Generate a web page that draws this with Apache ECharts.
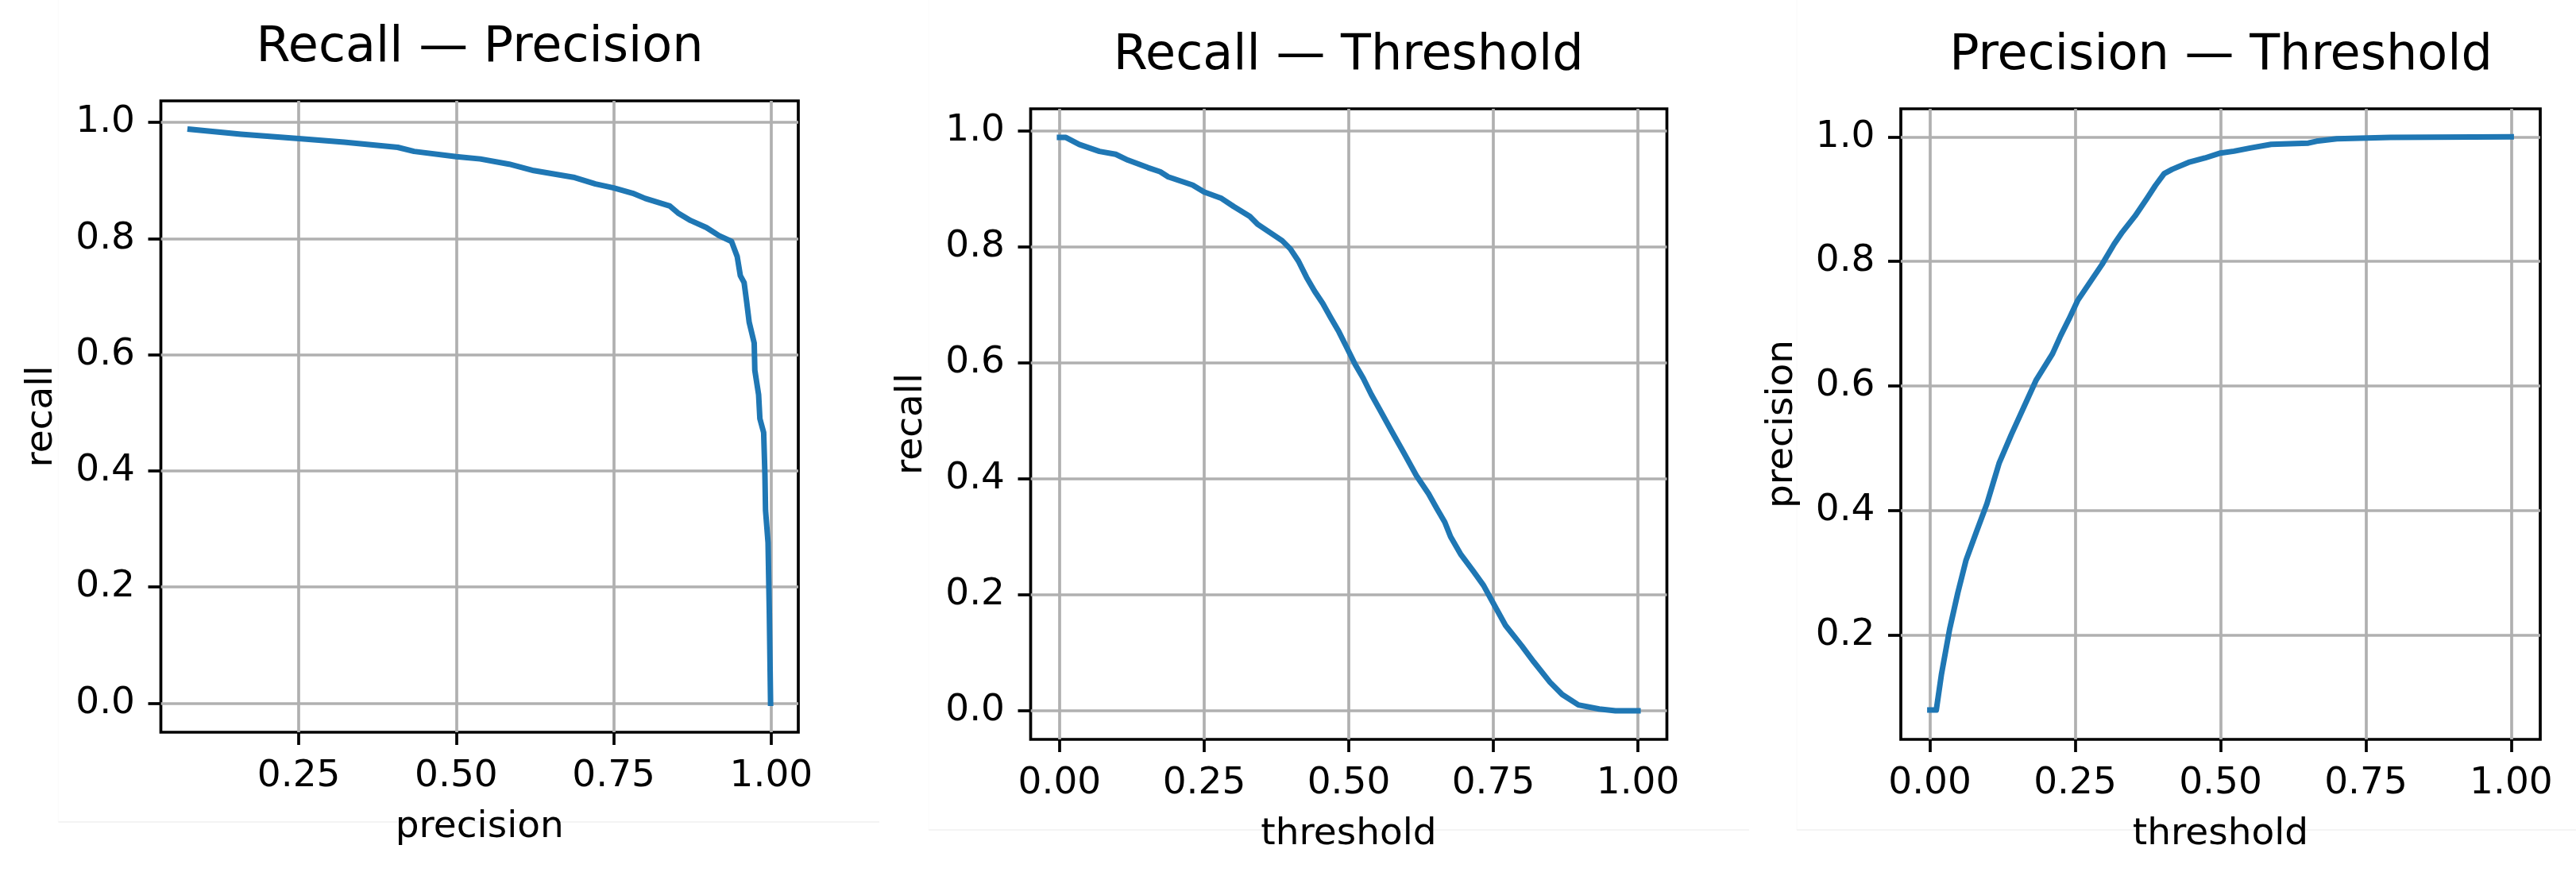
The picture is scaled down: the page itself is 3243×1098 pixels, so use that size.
<!DOCTYPE html>
<html>
<head>
<meta charset="utf-8">
<script src="https://cdn.jsdelivr.net/npm/echarts@6.0.0/dist/echarts.min.js"></script>
<style>
  html, body { margin: 0; padding: 0; background: #fff; }
  #chart { width: 3243px; height: 1098px; }
</style>
</head>
<body>
<div id="chart"></div>
<script>
// recall vs precision
const prPrecision = [0.0775, 0.158, 0.25, 0.322, 0.407, 0.433, 0.5, 0.538, 0.584, 0.623, 0.688, 0.721, 0.75, 0.78, 0.80, 0.839, 0.852, 0.872, 0.897, 0.917, 0.937, 0.946, 0.951, 0.957, 0.961, 0.965, 0.973, 0.974, 0.980, 0.982, 0.988, 0.990, 0.991, 0.995, 0.997, 0.999];
const prRecall = [0.988, 0.9795, 0.972, 0.966, 0.957, 0.950, 0.941, 0.937, 0.928, 0.917, 0.905, 0.894, 0.887, 0.878, 0.869, 0.856, 0.844, 0.831, 0.819, 0.805, 0.795, 0.769, 0.736, 0.724, 0.691, 0.656, 0.620, 0.573, 0.531, 0.490, 0.466, 0.395, 0.332, 0.276, 0.157, 0.0];

// recall vs threshold
const rtThreshold = [0, 0.011, 0.034, 0.069, 0.097, 0.118, 0.153, 0.174, 0.188, 0.230, 0.25, 0.280, 0.301, 0.329, 0.343, 0.364, 0.385, 0.399, 0.413, 0.427, 0.441, 0.455, 0.469, 0.483, 0.497, 0.511, 0.525, 0.539, 0.553, 0.574, 0.596, 0.617, 0.638, 0.652, 0.666, 0.676, 0.694, 0.715, 0.733, 0.75, 0.771, 0.799, 0.820, 0.848, 0.869, 0.897, 0.933, 0.961, 1.0];
const rtRecall = [0.988, 0.988, 0.976, 0.964, 0.959, 0.949, 0.936, 0.929, 0.920, 0.906, 0.894, 0.883, 0.869, 0.852, 0.838, 0.824, 0.810, 0.796, 0.775, 0.747, 0.723, 0.702, 0.677, 0.653, 0.625, 0.597, 0.573, 0.545, 0.520, 0.482, 0.443, 0.405, 0.374, 0.349, 0.325, 0.300, 0.269, 0.241, 0.216, 0.185, 0.147, 0.112, 0.084, 0.049, 0.028, 0.010, 0.003, 0.0, 0.0];

// precision vs threshold
const ptThreshold = [0, 0.011, 0.020, 0.034, 0.048, 0.062, 0.080, 0.098, 0.119, 0.140, 0.162, 0.183, 0.211, 0.225, 0.239, 0.254, 0.275, 0.296, 0.317, 0.331, 0.353, 0.374, 0.388, 0.403, 0.417, 0.445, 0.473, 0.5, 0.523, 0.551, 0.587, 0.651, 0.665, 0.700, 0.792, 1.0];
const ptPrecision = [0.080, 0.080, 0.138, 0.210, 0.268, 0.320, 0.366, 0.411, 0.476, 0.522, 0.567, 0.610, 0.652, 0.681, 0.707, 0.737, 0.766, 0.795, 0.828, 0.847, 0.873, 0.902, 0.922, 0.941, 0.948, 0.959, 0.966, 0.974, 0.977, 0.982, 0.988, 0.990, 0.993, 0.997, 0.999, 1.0];

// tick values
const ticksX1 = [0.25, 0.5, 0.75, 1.0];
const ticksX = [0, 0.25, 0.5, 0.75, 1.0];
const ticksY = [0, 0.2, 0.4, 0.6, 0.8, 1.0];
const ticksY3 = [0.2, 0.4, 0.6, 0.8, 1.0];

const titles = ['Recall — Precision', 'Recall — Threshold', 'Precision — Threshold'];

const FONT = 'DejaVu Sans';
const BLUE = '#1f77b4';
const LABEL_SIZE = 47;

function zip(a, b) {
    return a.map(function (v, i) { return [v, b[i]]; });
}

// one matplotlib-like value axis
function valueAxis(idx, name, min, max, ticks, digits, gap) {
    return {
        type: 'value',
        gridIndex: idx,
        min: min,
        max: max,
        name: name,
        nameLocation: 'middle',
        nameGap: gap,
        nameTextStyle: { fontFamily: FONT, fontSize: LABEL_SIZE, color: '#000' },
        axisLine: { show: false, onZero: false },
        axisTick: {
            show: true,
            customValues: ticks,
            length: 16,
            lineStyle: { color: '#000', width: 3.7 }
        },
        axisLabel: {
            customValues: ticks,
            formatter: function (v) { return Number(v).toFixed(digits); },
            margin: 32.5,
            fontFamily: FONT,
            fontSize: LABEL_SIZE,
            color: '#000'
        },
        splitLine: { show: true, lineStyle: { color: '#b0b0b0', width: 3.7 } }
    };
}

const grids = [
    { left: 202.5, top: 127, width: 802.5, height: 795 },
    { left: 1297.5, top: 137, width: 801, height: 794 },
    { left: 2393, top: 137, width: 805, height: 794 }
].map(function (g) {
    return Object.assign({ show: true, borderColor: '#000', borderWidth: 3.7, backgroundColor: 'transparent' }, g);
});

const xAxes = [
    valueAxis(0, 'precision', 0.031, 1.043, ticksX1, 2, 96),
    valueAxis(1, 'threshold', -0.05, 1.05, ticksX, 2, 96),
    valueAxis(2, 'threshold', -0.05, 1.05, ticksX, 2, 96)
];
const yAxes = [
    valueAxis(0, 'recall', -0.05, 1.037, ticksY, 1, 126),
    valueAxis(1, 'recall', -0.0494, 1.0374, ticksY, 1, 126),
    valueAxis(2, 'precision', 0.033, 1.045, ticksY3, 1, 126)
];

function lineSeries(idx, data) {
    return {
        type: 'line',
        xAxisIndex: idx,
        yAxisIndex: idx,
        data: data,
        showSymbol: false,
        smooth: false,
        z: 5,
        lineStyle: { color: BLUE, width: 7, cap: 'square', join: 'round' }
    };
}

const centers = [604, 1697.7, 2796];
const titleTops = [30, 39.5, 39.5];

const graphics = titles.map(function (t, i) {
    return {
        type: 'text',
        x: centers[i],
        y: titleTops[i],
        style: {
            text: t,
            fontFamily: FONT,
            fontSize: 62,
            fill: '#000',
            align: 'center',
            textAlign: 'center',
            verticalAlign: 'top',
            textVerticalAlign: 'top'
        }
    };
});

// faint outlines left from the pasted sub-images
const faint = [
    [73.5, 0, 73.5, 1035, '#fbfbfb'],
    [73.5, 1035, 1107, 1035, '#f0f0f0'],
    [1169, 0, 1169, 1045, '#fcfcfc'],
    [1169, 1045, 2202, 1045, '#f0f0f0'],
    [2262, 0, 2262, 1045, '#fbfbfb'],
    [2262, 1045, 3243, 1045, '#f0f0f0']
];
faint.forEach(function (f) {
    graphics.push({
        type: 'line',
        z: -1,
        shape: { x1: f[0], y1: f[1], x2: f[2], y2: f[3] },
        style: { stroke: f[4], lineWidth: 1.5 }
    });
});

const chart = echarts.init(document.getElementById('chart'), null, { renderer: 'canvas' });
chart.setOption({
    animation: false,
    backgroundColor: '#ffffff',
    grid: grids,
    xAxis: xAxes,
    yAxis: yAxes,
    series: [
        lineSeries(0, zip(prPrecision, prRecall)),
        lineSeries(1, zip(rtThreshold, rtRecall)),
        lineSeries(2, zip(ptThreshold, ptPrecision))
    ],
    graphic: graphics
});
</script>
</body>
</html>
